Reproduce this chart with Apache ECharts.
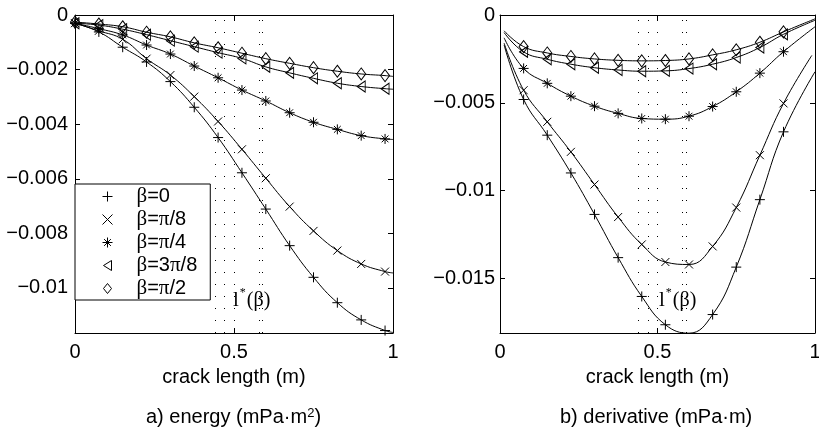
<!DOCTYPE html>
<html><head><meta charset="utf-8">
<script src="https://cdn.jsdelivr.net/npm/echarts@6/dist/echarts.min.js"></script>
<style>html,body{margin:0;padding:0;background:#fff}#c{width:819px;height:433px}</style>
</head><body><div id="c"></div>
<script>
// ---------- data ----------
const seriesNames = ['β=0', 'β=π/8', 'β=π/4', 'β=3π/8', 'β=π/2'];

// a) energy: markers at xLeft, curve continues to x = 1
const xLeft = [0, 0.075, 0.15, 0.225, 0.3, 0.375, 0.45, 0.525, 0.6, 0.675, 0.75, 0.825, 0.9, 0.975];
const energyB0   = [-0.0003, -0.00062, -0.00118, -0.00172, -0.00244, -0.00338, -0.00449, -0.00578, -0.00711, -0.00845, -0.00961, -0.01054, -0.01117, -0.01156];
const energyB1   = [-0.0003, -0.00058, -0.00089, -0.0016, -0.0022, -0.00299, -0.0039, -0.00492, -0.00598, -0.00702, -0.00791, -0.00863, -0.00912, -0.0094];
const energyB2   = [-0.0003, -0.0005, -0.00073, -0.0011, -0.00143, -0.00187, -0.0023, -0.00275, -0.00315, -0.00358, -0.00393, -0.00419, -0.00442, -0.00454];
const energyB3   = [-0.0003, -0.00037, -0.00052, -0.00072, -0.00094, -0.00116, -0.00138, -0.00159, -0.0019, -0.00212, -0.00232, -0.0025, -0.00262, -0.0027];
const energyB4   = [-0.00026, -0.00033, -0.00043, -0.00063, -0.0008, -0.00102, -0.0012, -0.0014, -0.0016, -0.00177, -0.00193, -0.00206, -0.00216, -0.00222];
const energyEndX = 1;
const energyEnd  = [-0.01163, -0.00945, -0.00456, -0.00272, -0.00225];

// b) derivative: markers at xRight, curve from derivStartX to derivEndX
const xRight = [0.075, 0.15, 0.225, 0.3, 0.375, 0.45, 0.525, 0.6, 0.675, 0.75, 0.825, 0.9];
const derivB0 = [-0.00481, -0.00684, -0.00899, -0.01135, -0.01381, -0.01602, -0.01763, -0.01811, -0.01705, -0.01435, -0.01051, -0.00665];
const derivB1 = [-0.00428, -0.00608, -0.00779, -0.00965, -0.0115, -0.01306, -0.01406, -0.0142, -0.01317, -0.01096, -0.00798, -0.00503];
const derivB2 = [-0.00304, -0.00389, -0.00462, -0.00519, -0.0056, -0.00589, -0.00593, -0.00576, -0.00521, -0.00437, -0.00331, -0.00209];
const derivB3 = [-0.0021, -0.00252, -0.0028, -0.003, -0.00313, -0.0032, -0.00318, -0.00305, -0.0028, -0.00242, -0.00185, -0.0011];
const derivB4 = [-0.0018, -0.00216, -0.00236, -0.0025, -0.00258, -0.00261, -0.00259, -0.0025, -0.00227, -0.00198, -0.00155, -0.00096];
const derivStartX = [0.013, 0.013, 0.013, 0.013, 0.013];
const derivStart  = [-0.0017, -0.0016, -0.0013, -0.001, -0.0009];
const derivEndX   = [1, 0.99, 1, 1, 1];
const derivEnd    = [-0.00323, -0.0023, -0.00067, -0.0003, -0.00022];

// l*(beta) dotted verticals
const lstarX = [0.442, 0.472, 0.503, 0.577, 0.59];

// ticks
const xTicks = [0, 0.5, 1];
const yTicksLeft = [0, -0.002, -0.004, -0.006, -0.008, -0.01];
const yTicksRight = [0, -0.005, -0.01, -0.015];
const yMinLeft = -0.01165;
const yMinRight = -0.0181;

const energy = [energyB0, energyB1, energyB2, energyB3, energyB4];
const deriv = [derivB0, derivB1, derivB2, derivB3, derivB4];

// ---------- styles ----------
const FONT = 'Liberation Sans, Arial, Helvetica, sans-serif';
const SERIF = 'Liberation Serif, Times New Roman, serif';
const symbols = [
  {symbol: 'path://M5,0L5,10M0,5L10,5', size: [10, 10]},
  {symbol: 'path://M0,0L8,8M0,8L8,0', size: [8, 8]},
  {symbol: 'path://M5,0L5,10M0,5L10,5M1.6,1.6L8.4,8.4M1.6,8.4L8.4,1.6', size: [10, 10]},
  {symbol: 'path://M0,5L8,0L8,10Z', size: [8, 11]},
  {symbol: 'path://M4,0L8,5L4,10L0,5Z', size: [9, 12]}
];

function fmtY(v) { return v === 0 ? '0' : '\u2212' + String(Math.abs(v)); }

function xAxisCfg(grid, pos, withLabel) {
  return {
    type: 'value', gridIndex: grid, position: pos, min: 0, max: 1,
    axisLine: {show: true, onZero: false, lineStyle: {color: '#000', width: 1}},
    axisTick: {show: true, inside: true, length: 5, customValues: xTicks, lineStyle: {color: '#000'}},
    axisLabel: {show: withLabel, customValues: xTicks, margin: 9, formatter: v => String(v),
      fontSize: 20, fontFamily: FONT, color: '#000'},
    splitLine: {show: false},
    name: withLabel ? 'crack length (m)' : '',
    nameLocation: 'middle', nameGap: 34,
    nameTextStyle: {fontSize: 20, fontFamily: FONT, color: '#000'}
  };
}
function yAxisCfg(grid, pos, min, ticks, withLabel, margin) {
  return {
    type: 'value', gridIndex: grid, position: pos, min: min, max: 0,
    axisLine: {show: true, onZero: false, lineStyle: {color: '#000', width: 1}},
    axisTick: {show: true, inside: true, length: 5, customValues: ticks, lineStyle: {color: '#000'}},
    axisLabel: {show: withLabel, customValues: ticks, margin: margin, formatter: fmtY,
      fontSize: 20, fontFamily: FONT, color: '#000'},
    splitLine: {show: false}
  };
}

const series = [];
for (let g = 0; g < 2; g++) {
  for (let i = 0; i < 5; i++) {
    let pts, lineData;
    if (g === 0) {
      pts = xLeft.map((x, j) => [x, energy[i][j]]);
      lineData = pts.concat([[energyEndX, energyEnd[i]]]);
    } else {
      pts = xRight.map((x, j) => [x, deriv[i][j]]);
      lineData = [[derivStartX[i], derivStart[i]]].concat(pts, [[derivEndX[i], derivEnd[i]]]);
    }
    const line = {
      type: 'line', name: 'curve' + g + i, xAxisIndex: g * 2, yAxisIndex: g * 2,
      data: lineData, smooth: 0.45, symbol: 'none', silent: true,
      lineStyle: {color: '#000', width: 1}, z: 2
    };
    if (i === 0) {
      line.markLine = {
        silent: true, symbol: ['none', 'none'], label: {show: false},
        lineStyle: {type: [1, 11], color: '#000', width: 1},
        data: lstarX.map(v => ({xAxis: v}))
      };
    }
    series.push(line);
    series.push({
      type: 'scatter', name: seriesNames[i], xAxisIndex: g * 2, yAxisIndex: g * 2,
      data: pts, symbol: symbols[i].symbol, symbolSize: symbols[i].size, silent: true,
      itemStyle: {color: 'none', borderColor: '#000', borderWidth: 1, opacity: 1}, z: 3
    });
  }
}

const lstarText = {text: '{l|l}{s|*}{n|(β)}', rich: {
  l: {fontFamily: SERIF, fontSize: 21, lineHeight: 24, verticalAlign: 'bottom'},
  s: {fontFamily: SERIF, fontSize: 12, lineHeight: 12, verticalAlign: 'top', padding: [0, 1, 0, 1]},
  n: {fontFamily: SERIF, fontSize: 20, lineHeight: 24, verticalAlign: 'bottom'}}};

const chart = echarts.init(document.getElementById('c'), null, {renderer: 'canvas'});
chart.setOption({
  animation: false,
  backgroundColor: '#fff',
  grid: [
    {left: 75, top: 15, width: 318, height: 318, outerBoundsMode: 'none', containLabel: false},
    {left: 500, top: 15, width: 315, height: 318, outerBoundsMode: 'none', containLabel: false}
  ],
  xAxis: [xAxisCfg(0, 'bottom', true), xAxisCfg(0, 'top', false), xAxisCfg(1, 'bottom', true), xAxisCfg(1, 'top', false)],
  yAxis: [yAxisCfg(0, 'left', yMinLeft, yTicksLeft, true, 7), yAxisCfg(0, 'right', yMinLeft, yTicksLeft, false, 7),
          yAxisCfg(1, 'left', yMinRight, yTicksRight, true, 5), yAxisCfg(1, 'right', yMinRight, yTicksRight, false, 5)],
  legend: {
    data: seriesNames, orient: 'vertical', left: 75, top: 184,
    padding: [1, 13, 0, 25], itemGap: 0, itemWidth: 10, itemHeight: 10,
    backgroundColor: '#fff', borderColor: '#000', borderWidth: 1, borderRadius: 0,
    selectedMode: false, z: 10,
    itemStyle: {borderWidth: 1, borderColor: '#000', color: 'none'},
    formatter: name => name.replace(/([βπ])/g, '{g|$1}'),
    textStyle: {fontSize: 20, fontFamily: FONT, color: '#000', lineHeight: 23, padding: [0, 0, 0, 19],
      rich: {g: {fontSize: 21, fontFamily: SERIF, color: '#000', lineHeight: 23}}}
  },
  graphic: [
    {type: 'text', left: 233, top: 287, z: 20, silent: true, style: lstarText},
    {type: 'text', left: 659, top: 287, z: 20, silent: true, style: lstarText},
    {type: 'text', left: 146, top: 407, silent: true,
     style: {text: 'a) energy (mPa·m{s|2})', fontSize: 20, fontFamily: FONT, fill: '#000',
       rich: {s: {fontSize: 13, fontFamily: FONT, verticalAlign: 'top', lineHeight: 12}}}},
    {type: 'text', left: 560, top: 407, silent: true,
     style: {text: 'b) derivative (mPa·m)', fontSize: 20, fontFamily: FONT, fill: '#000'}}
  ],
  series: series
});
</script></body></html>
